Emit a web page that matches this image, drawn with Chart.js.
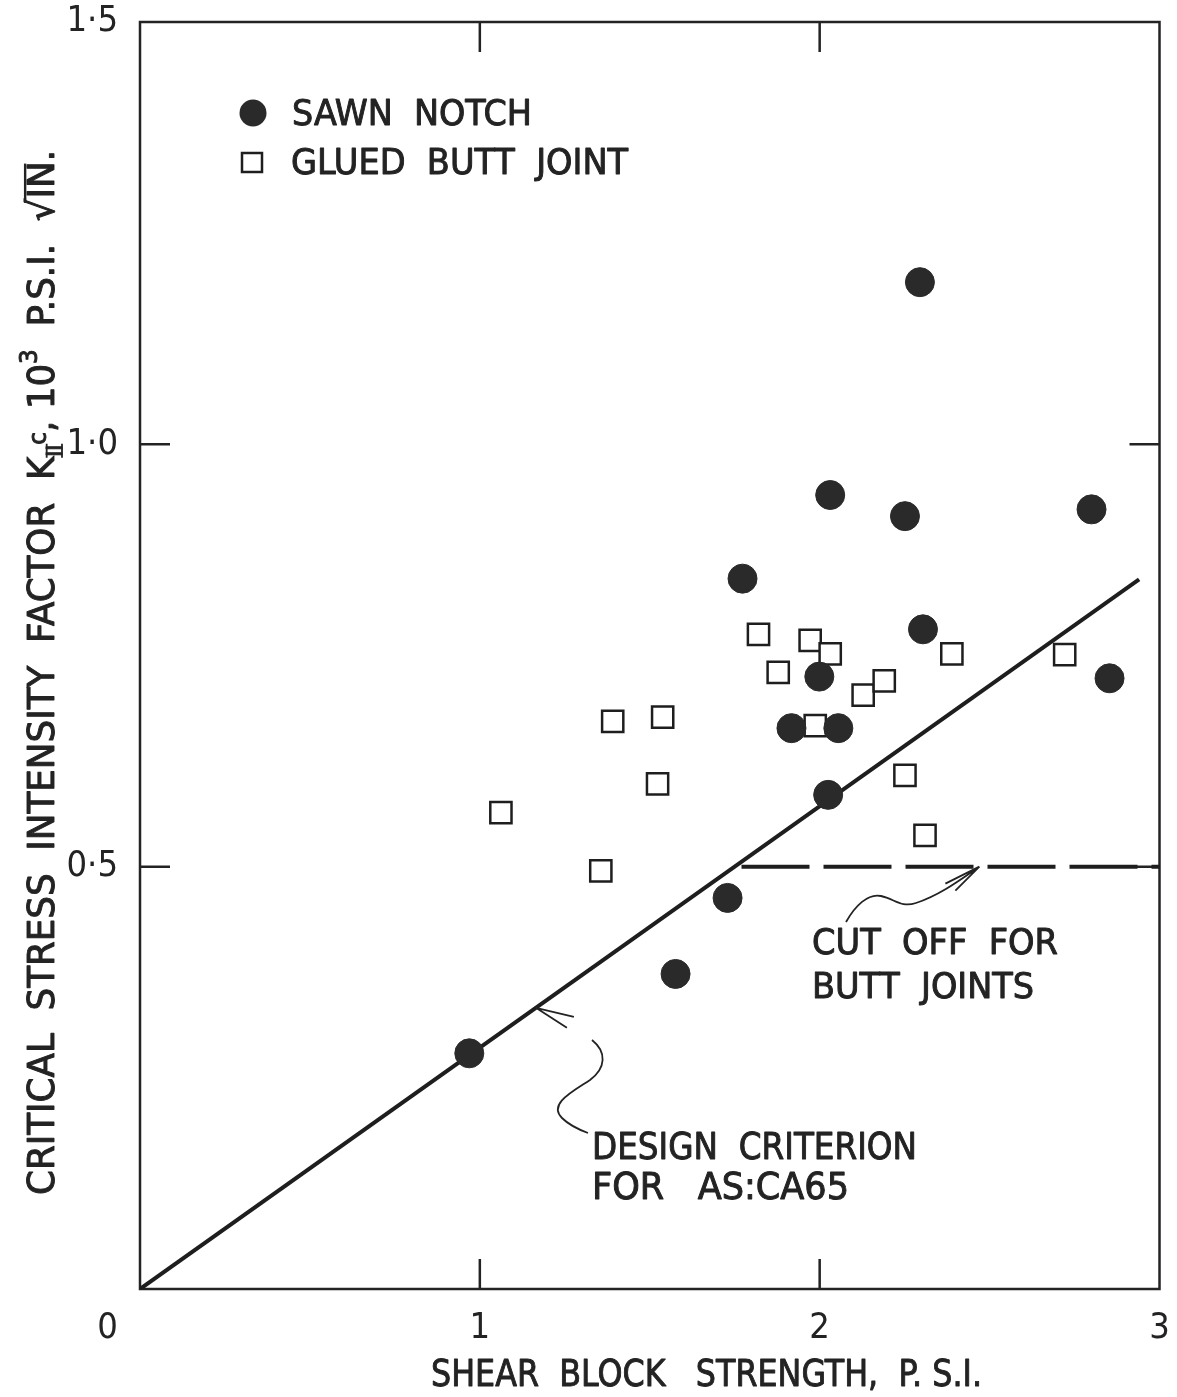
<!DOCTYPE html>
<html>
<head>
<meta charset="utf-8">
<script src="https://cdn.jsdelivr.net/npm/chart.js@4.4.1/dist/chart.umd.min.js"></script>
<style>
  html, body { margin: 0; padding: 0; background: #ffffff; }
  #c { display: block; }
</style>
</head>
<body>
<canvas id="c" width="1177" height="1397"></canvas>
<script>
// Sawn notch specimens: shear block strength (p.s.i.) vs K_IIc (10^3 p.s.i. sqrt in.)
const sawnX = [2.295, 2.031, 2.251, 2.800, 1.773, 2.304, 1.999, 2.853, 1.917, 2.055, 2.025, 1.729, 1.576, 0.969];
const sawnY = [1.192, 0.940, 0.915, 0.923, 0.841, 0.781, 0.725, 0.723, 0.664, 0.664, 0.585, 0.463, 0.373, 0.279];

// Glued butt joint specimens
const glueX = [1.820, 1.972, 2.031, 1.878, 2.128, 2.190, 2.389, 2.721, 1.987, 1.391, 1.538, 1.523, 1.062, 1.356, 2.251, 2.310];
const glueY = [0.775, 0.768, 0.752, 0.730, 0.703, 0.720, 0.752, 0.751, 0.667, 0.672, 0.677, 0.598, 0.564, 0.495, 0.608, 0.537];

// Design criterion for AS:CA65 (straight line through the origin)
const designX = [0, 2.94];
const designY = [0, 0.84];

// Cut off for butt joints
const cutoffX = [1.77, 3];
const cutoffY = [0.5, 0.5];

// Axis tick labels
const xTickLabels = ['0', '1', '2', '3'];
const yTickLabels = ['', '0·5', '1·0', '1·5'];

const seriesLabels = ['SAWN  NOTCH', 'GLUED  BUTT  JOINT'];
const axisTitleX = 'SHEAR  BLOCK   STRENGTH,  P. S.I.';
const noteCutoff = ['CUT  OFF  FOR', 'BUTT  JOINTS'];
const noteDesign = ['DESIGN  CRITERION', 'FOR   AS:CA65'];

const INK = '#232323';
const FONT = '"DejaVu Sans Condensed", "Liberation Sans Narrow", "DejaVu Sans", sans-serif';

const toPts = (xs, ys) => xs.map((x, i) => ({ x, y: ys[i] }));

// Lettering: filled and lightly outlined for a pen-drawn weight
function letter(ctx, text, x, y) {
  ctx.fillText(text, x, y);
  ctx.strokeText(text, x, y);
}

// Text drawn with a horizontal stretch so it spans the given width
function fitText(ctx, text, left, baseline, width, size) {
  ctx.save();
  ctx.font = size + 'px ' + FONT;
  const w = ctx.measureText(text).width;
  ctx.translate(left, baseline);
  ctx.scale(width / w, 1);
  ctx.textAlign = 'left';
  ctx.textBaseline = 'alphabetic';
  ctx.strokeStyle = INK;
  ctx.lineWidth = 0.9;
  ctx.lineJoin = 'round';
  letter(ctx, text, 0, 0);
  ctx.restore();
}

// Keep the plot box where the layout padding puts it
function noScalePadding(s) {
  s.paddingTop = 0; s.paddingBottom = 0; s.paddingLeft = 0; s.paddingRight = 0;
}

const framePlugin = {
  id: 'frame',
  beforeDatasetsDraw(chart) {
    const { ctx, chartArea: a, scales: { x, y } } = chart;
    ctx.save();
    ctx.strokeStyle = INK;
    ctx.lineWidth = 2.5;
    ctx.strokeRect(a.left, a.top, a.right - a.left, a.bottom - a.top);
    const len = 30;
    ctx.beginPath();
    x.ticks.forEach(t => {
      if (t.value <= x.min || t.value >= x.max) return;
      const px = x.getPixelForValue(t.value);
      ctx.moveTo(px, a.bottom); ctx.lineTo(px, a.bottom - len);
      ctx.moveTo(px, a.top); ctx.lineTo(px, a.top + len);
    });
    y.ticks.forEach(t => {
      if (t.value <= y.min || t.value >= y.max) return;
      const py = y.getPixelForValue(t.value);
      ctx.moveTo(a.left, py); ctx.lineTo(a.left + len, py);
      ctx.moveTo(a.right, py); ctx.lineTo(a.right - len, py);
    });
    ctx.stroke();
    ctx.restore();
  }
};

const notesPlugin = {
  id: 'notes',
  afterDatasetsDraw(chart) {
    const { ctx, scales: { x, y } } = chart;
    ctx.save();
    ctx.fillStyle = INK;
    ctx.strokeStyle = INK;

    // Legend
    const ds = chart.data.datasets;
    ctx.beginPath();
    ctx.arc(253, 113, 13.5, 0, Math.PI * 2);
    ctx.fillStyle = ds[0].backgroundColor;
    ctx.fill();
    ctx.fillStyle = '#ffffff';
    ctx.lineWidth = 2.5;
    ctx.strokeStyle = ds[1].borderColor;
    ctx.fillRect(242, 153, 20, 19);
    ctx.strokeRect(242, 153, 20, 19);
    ctx.fillStyle = INK;
    fitText(ctx, seriesLabels[0], 292, 125, 240, 36);
    fitText(ctx, seriesLabels[1], 291, 174, 337, 36);

    // Annotations
    fitText(ctx, noteCutoff[0], 812, 954, 246, 36);
    fitText(ctx, noteCutoff[1], 812, 998, 222, 36);
    fitText(ctx, noteDesign[0], 592, 1159, 325, 37);
    fitText(ctx, noteDesign[1], 592, 1199, 257, 37);

    // Leader to the cut-off line
    ctx.strokeStyle = INK;
    ctx.lineWidth = 1.8;
    const cx = x.getPixelForValue(2.47), cy = y.getPixelForValue(0.5);
    ctx.beginPath();
    ctx.moveTo(846, 922);
    ctx.bezierCurveTo(855, 906, 868, 893, 881, 896);
    ctx.bezierCurveTo(895, 899, 901, 908, 916, 903);
    ctx.bezierCurveTo(940, 895, 960, 880, cx, cy);
    ctx.moveTo(cx, cy); ctx.lineTo(cx - 34, cy + 17);
    ctx.moveTo(cx, cy); ctx.lineTo(cx - 24, cy + 24);
    ctx.stroke();

    // Leader to the design criterion line
    const dxv = 1.165, dyv = designY[1] / designX[1] * dxv;
    const dx = x.getPixelForValue(dxv), dy = y.getPixelForValue(dyv);
    ctx.beginPath();
    ctx.moveTo(dx, dy); ctx.lineTo(dx + 38, dy + 9);
    ctx.moveTo(dx, dy); ctx.lineTo(dx + 31, dy + 20);
    ctx.moveTo(592, 1040);
    ctx.bezierCurveTo(607, 1052, 606, 1068, 590, 1080);
    ctx.bezierCurveTo(572, 1092, 548, 1104, 562, 1118);
    ctx.bezierCurveTo(570, 1126, 580, 1130, 588, 1133);
    ctx.stroke();

    // X axis title
    fitText(ctx, axisTitleX, 431, 1386, 551, 38);

    // Y axis title, read bottom to top
    ctx.save();
    ctx.translate(54, 1195);
    ctx.rotate(-Math.PI / 2);
    const F = 37;
    const segs = [
      { t: 'CRITICAL  STRESS  INTENSITY  FACTOR  K', s: F, dy: 0 },
      { t: 'II', s: 21, dy: 8, bars: true },
      { t: 'c', s: 24, dy: -8 },
      { t: ', 10', s: F, dy: 0 },
      { t: '3', s: 24, dy: -17 },
      { t: '  P.S.I.  ', s: F, dy: 0 },
      { t: '\u221A', s: F, dy: 0 },
      { t: 'IN.', s: F, dy: 0, over: true }
    ];
    let total = 0;
    segs.forEach(g => { ctx.font = g.s + 'px ' + FONT; g.w = ctx.measureText(g.t).width; total += g.w; });
    const k = 1045 / total;
    ctx.scale(k, 1);
    let pos = 0;
    ctx.textBaseline = 'alphabetic';
    ctx.textAlign = 'left';
    ctx.lineJoin = 'round';
    segs.forEach(g => {
      ctx.font = g.s + 'px ' + FONT;
      ctx.lineWidth = 0.9;
      letter(ctx, g.t, pos, g.dy);
      ctx.lineWidth = 1.8;
      if (g.bars) {
        const h = g.s * 0.73;
        ctx.beginPath();
        ctx.moveTo(pos - 1, g.dy); ctx.lineTo(pos + g.w + 1, g.dy);
        ctx.moveTo(pos - 1, g.dy - h); ctx.lineTo(pos + g.w + 1, g.dy - h);
        ctx.stroke();
      }
      if (g.over) {
        const h = g.s * 0.78;
        ctx.lineWidth = 2.4;
        ctx.beginPath();
        ctx.moveTo(pos - 4, -h); ctx.lineTo(pos + g.w * 0.72, -h);
        ctx.stroke();
      }
      pos += g.w;
    });
    ctx.restore();

    ctx.restore();
  }
};

new Chart(document.getElementById('c'), {
  type: 'scatter',
  data: {
    datasets: [
      {
        label: seriesLabels[0],
        data: toPts(sawnX, sawnY),
        pointStyle: 'circle',
        pointRadius: 14.5,
        backgroundColor: '#2a2a2a',
        borderColor: '#2a2a2a',
        borderWidth: 1,
        order: 0
      },
      {
        label: seriesLabels[1],
        data: toPts(glueX, glueY),
        pointStyle: 'rect',
        pointRadius: 15,
        backgroundColor: '#ffffff',
        borderColor: '#1e1e1e',
        borderWidth: 2.5,
        order: 1
      },
      {
        type: 'line',
        label: 'design',
        data: toPts(designX, designY),
        borderColor: '#1e1e1e',
        borderWidth: 4,
        pointRadius: 0,
        fill: false,
        order: 3
      },
      {
        type: 'line',
        label: 'cutoff',
        data: toPts(cutoffX, cutoffY),
        borderColor: '#1e1e1e',
        borderWidth: 4,
        borderDash: [68, 14],
        pointRadius: 0,
        fill: false,
        order: 2
      }
    ]
  },
  options: {
    responsive: false,
    animation: false,
    events: [],
    layout: { padding: { top: 22, right: 15, left: 0, bottom: 0 } },
    plugins: { legend: { display: false }, tooltip: { enabled: false } },
    scales: {
      x: {
        type: 'linear', min: 0, max: 3, position: 'bottom',
        grid: { display: false, drawTicks: false },
        border: { display: false },
        ticks: {
          stepSize: 1, autoSkip: false, maxRotation: 0, padding: 18,
          color: INK, font: { family: FONT, size: 36 },
          callback: (v, i) => i === 0 ? xTickLabels[0] + '\u2003\u2003' : xTickLabels[i]
        },
        afterFit: s => { s.height = 108; noScalePadding(s); }
      },
      y: {
        type: 'linear', min: 0, max: 1.5, position: 'left',
        grid: { display: false, drawTicks: false },
        border: { display: false },
        ticks: {
          stepSize: 0.5, autoSkip: false, padding: 22,
          color: INK, font: { family: FONT, size: 36 },
          callback: (v, i) => yTickLabels[i]
        },
        afterFit: s => { s.width = 140; noScalePadding(s); }
      }
    }
  },
  plugins: [framePlugin, notesPlugin]
});
</script>
</body>
</html>
